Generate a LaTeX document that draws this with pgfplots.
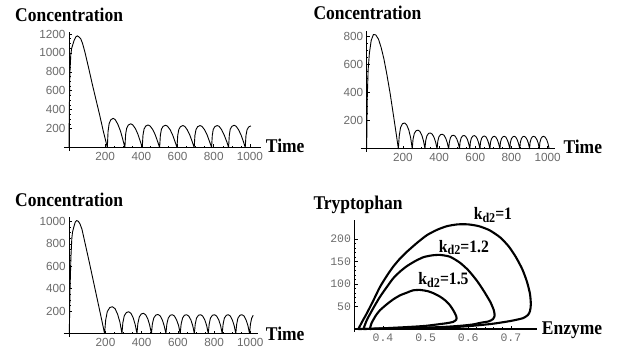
\documentclass[border=0pt]{standalone}
\usepackage{fontspec}
\usepackage{pgfplots}
\pgfplotsset{compat=1.18}
\setmainfont{Liberation Serif}
\newfontfamily\ttl{Liberation Serif}[FakeStretch=0.9]
\newfontfamily\tks{Liberation Sans}
\newfontfamily\tkm{Liberation Mono}
\newcommand{\tfont}{\ttl\bfseries\fontsize{19.5}{19.5}\selectfont}
\newcommand{\kfont}{\ttl\bfseries\fontsize{17.5}{17.5}\selectfont}
\newcommand{\kd}[1]{k\raisebox{-2.5bp}{\fontsize{13.5}{13.5}\selectfont d2}=#1}
\begin{document}
\begin{tikzpicture}
\useasboundingbox (0,0) rectangle (618bp,349bp);
\pgfplotsset{
  mma/.style={scale only axis, axis lines=middle, axis line style={-, line width=0.7bp},
    tick align=inside, major tick length=3bp, minor tick length=1.6bp,
    tick style={black, line width=0.5bp},
    tick label style={font=\tks\fontsize{11.8}{11.8}\selectfont, text=black!58},
    xticklabel style={yshift=-1bp},
    minor x tick num=3, minor y tick num=3, clip=false,
    xtick={200,400,600,800,1000}, xticklabels={200,400,600,800,1000}},
  crv/.style={black, line width=0.9bp, line join=round},
}
% ---------------- panel 1 ----------------
\begin{axis}[mma, at={(63.9bp,198.2bp)}, anchor=south west, width=196.9bp, height=118.7bp,
  xmin=-28, xmax=1060, ymin=-35, ymax=1220,
  ytick={200,400,600,800,1000,1200}, yticklabels={200,400,600,800,1000,1200}]
\addplot[crv] coordinates {
(0,0)(2,400)(5,780)(10,980)(15,1050)(20,1080)(28,1130)(38,1170)(46,1180)(55,1170)(65,1150)(75,1100)(88,1010)(110,830)(130,660)(150,500)(170,340)(190,170)(212,0)
(216,169)(222,253)(231,293)(244,308)(255,296)(270,246)(285,172)(299,74)(309,0)
(313,138)(319,205)(328,238)(341,250)(352,240)(367,200)(381,140)(395,60)(405,0)
(409,131)(415,195)(424,226)(437,238)(448,228)(463,190)(477,133)(491,57)(501,0)
(505,129)(511,193)(520,223)(533,235)(544,226)(559,188)(573,132)(587,56)(597,0)
(601,128)(607,190)(616,220)(629,232)(640,223)(654,186)(668,130)(682,56)(692,0)
(696,128)(702,190)(711,220)(724,232)(735,223)(750,186)(764,130)(778,56)(788,0)
(792,128)(797,190)(806,220)(819,232)(830,223)(844,186)(858,130)(873,56)(882,0)
(886,129)(891,193)(900,223)(912,235)(923,226)(937,188)(951,132)(965,56)(974,0)
(978,125)(984,187)(993,217)(1005,228)
};
\end{axis}
% ---------------- panel 2 ----------------
\begin{axis}[mma, at={(360.7bp,197.2bp)}, anchor=south west, width=194.2bp, height=120.9bp,
  xmin=-33, xmax=1040, ymin=-22, ymax=838,
  ytick={200,400,600,800}, yticklabels={200,400,600,800}]
\addplot[crv] coordinates {
(0,0)(3,350)(8,560)(15,680)(25,770)(37,812)(50,810)(65,780)(80,720)(95,640)(110,540)(130,390)(150,220)(165,90)(175,0)
(180,92)(187,150)(198,178)(210,183)(221,170)(233,132)(243,77)(252,0)
(256,66)(263,108)(273,128)(284,132)(294,123)(305,95)(314,55)(322,0)
(326,56)(333,92)(342,109)(352,112)(362,104)(372,81)(381,47)(389,0)
(393,52)(399,84)(408,100)(418,103)(427,96)(437,74)(445,43)(453,0)
(457,48)(463,79)(471,93)(480,96)(489,89)(498,69)(506,40)(513,0)
(516,47)(522,77)(530,91)(539,94)(547,87)(556,68)(563,39)(570,0)
(573,47)(579,76)(587,90)(595,93)(604,86)(612,67)(619,39)(626,0)
(629,45)(635,74)(643,87)(651,90)(659,84)(667,65)(674,38)(681,0)
(684,44)(690,72)(698,85)(706,88)(714,82)(722,63)(729,37)(736,0)
(739,44)(745,72)(753,85)(761,88)(769,82)(777,63)(784,37)(791,0)
(794,44)(800,72)(808,85)(816,88)(824,82)(832,63)(839,37)(846,0)
(849,44)(855,72)(862,85)(870,88)(878,82)(887,63)(894,37)(900,0)
(903,44)(909,72)(916,85)(924,88)(932,82)(941,63)(948,37)(954,0)
(957,44)(963,72)(970,85)(978,88)(986,82)(995,63)(1002,37)(1008,0)
};
\end{axis}
% ---------------- panel 3 ----------------
\begin{axis}[mma, at={(63.5bp,12.1bp)}, anchor=south west, width=194.0bp, height=120.2bp,
  xmin=-32, xmax=1040, ymin=-30, ymax=1042,
  ytick={200,400,600,800,1000}, yticklabels={200,400,600,800,1000}]
\addplot[crv] coordinates {
(0,0)(4,390)(9,680)(14,850)(18,905)(25,950)(33,995)(41,1008)(50,1000)(59,978)(70,930)(88,800)(110,640)(134,460)(162,250)(180,115)(195,0)
(201,120)(210,196)(224,232)(238,239)(253,222)(267,172)(280,100)(291,0)
(296,97)(304,159)(316,188)(328,194)(341,180)(353,140)(364,81)(374,0)
(379,90)(387,148)(398,175)(410,180)(422,167)(434,130)(444,76)(454,0)
(459,85)(467,139)(478,165)(490,170)(502,158)(514,122)(524,71)(534,0)
(539,84)(547,138)(558,163)(570,168)(581,156)(593,121)(604,71)(613,0)
(618,84)(626,138)(636,163)(648,168)(660,156)(672,121)(682,71)(691,0)
(696,84)(703,138)(714,163)(726,168)(737,156)(749,121)(759,71)(768,0)
(773,84)(780,138)(791,163)(803,168)(814,156)(826,121)(836,71)(845,0)
(850,84)(857,138)(868,163)(879,168)(890,156)(901,121)(911,71)(920,0)
(925,84)(932,138)(943,163)(954,168)(966,156)(977,121)(987,71)(996,0)
(1001,84)(1008,138)(1016,163)
};
\end{axis}
% ---------------- panel 4 ----------------
\begin{axis}[scale only axis, at={(354.5bp,17.3bp)}, anchor=south west, width=182.3bp, height=111.8bp,
  xmin=0.333, xmax=0.761, ymin=-6, ymax=243,
  axis x line=middle, axis y line=left, axis line style={-, line width=1.8bp},
  tick align=inside, major tick length=3bp, minor tick length=1.8bp,
  tick style={black, line width=0.6bp},
  tick label style={font=\tkm\fontsize{11.5}{11.5}\selectfont, text=black!58},
  xticklabel style={yshift=-1bp},
  xtick={0.4,0.5,0.6,0.7}, xticklabels={0.4,0.5,0.6,0.7},
  ytick={50,100,150,200}, yticklabels={50,100,150,200},
  minor x tick num=4, minor y tick num=4, clip=false]
\addplot[black, line width=2.1bp, smooth, tension=0.4] coordinates {
(0.342,0)(0.352,18)(0.362,35)(0.378,65)(0.393,94)(0.410,120)(0.424,139)(0.44,157)(0.456,172)(0.48,192)(0.503,209)(0.527,221)(0.550,229)(0.575,233)(0.60,233)(0.625,229)(0.65,220)(0.675,204)(0.695,184)(0.712,160)(0.727,133)(0.738,105)(0.745,78)(0.747,55)(0.745,40)(0.740,31)(0.728,24)(0.70,18)(0.66,12)(0.62,8)(0.58,5)(0.54,3.5)(0.50,2.5)(0.45,1.5)(0.40,0.8)(0.342,0)
};
\addplot[black, line width=2.1bp, smooth, tension=0.4] coordinates {
(0.354,0)(0.362,20)(0.378,48)(0.393,72)(0.41,95)(0.424,113)(0.44,128)(0.456,140)(0.475,151)(0.495,160)(0.515,164)(0.534,165)(0.557,161)(0.58,148)(0.60,131)(0.62,108)(0.637,84)(0.652,60)(0.660,42)(0.662,30)(0.658,22)(0.648,17)(0.63,14)(0.61,10)(0.58,7)(0.54,4.5)(0.50,3)(0.45,1.8)(0.40,0.8)(0.354,0)
};
\addplot[black, line width=2.1bp, smooth, tension=0.4] coordinates {
(0.369,0)(0.373,13)(0.383,30)(0.393,42)(0.41,56)(0.424,66)(0.44,75)(0.456,81)(0.47,86)(0.487,87)(0.506,84)(0.52,79)(0.534,72)(0.547,63)(0.557,53)(0.566,40)(0.572,28)(0.572,21)(0.565,16)(0.55,13)(0.534,11)(0.50,7)(0.46,4.5)(0.42,2.5)(0.39,1)(0.369,0)
};
\node[font=\kfont] at (axis cs:0.658,254) {\kd{1}};
\node[font=\kfont] at (axis cs:0.590,181) {\kd{1.2}};
\node[font=\kfont] at (axis cs:0.542,109) {\kd{1.5}};
\end{axis}
% ---------------- titles ----------------
\node[anchor=base west, inner sep=0pt, font=\tfont] at (15bp,327.3bp) {Concentration};
\node[anchor=base west, inner sep=0pt, font=\tfont] at (313.3bp,329bp) {Concentration};
\node[anchor=base west, inner sep=0pt, font=\tfont] at (15bp,142.3bp) {Concentration};
\node[anchor=base west, inner sep=0pt, font=\tfont] at (313.3bp,139bp) {Tryptophan};
\node[anchor=base west, inner sep=0pt, font=\tfont] at (265.7bp,196.3bp) {Time};
\node[anchor=base west, inner sep=0pt, font=\tfont] at (563.3bp,195.7bp) {Time};
\node[anchor=base west, inner sep=0pt, font=\tfont] at (265.7bp,8.3bp) {Time};
\node[anchor=base west, inner sep=0pt, font=\tfont] at (541.7bp,14.7bp) {Enzyme};
\end{tikzpicture}
\end{document}
